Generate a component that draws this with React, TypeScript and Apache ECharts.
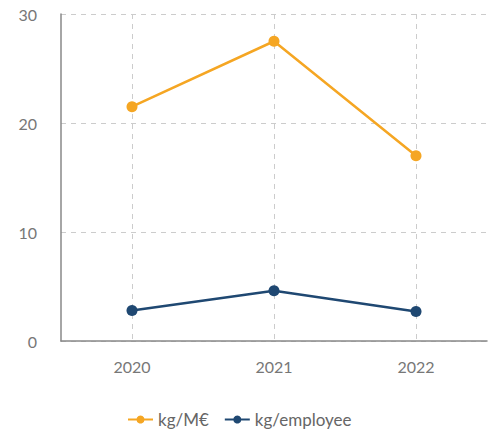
import React, { useEffect, useRef } from "react";
import * as echarts from "echarts";

const years = ["2020", "2021", "2022"];
const kgPerMEur = [21.5, 27.5, 17.0];
const kgPerEmployee = [2.8, 4.6, 2.7];
const seriesNames = ["kg/M€", "kg/employee"];

export default function App() {
  const ref = useRef<HTMLDivElement>(null);
  useEffect(() => {
    const chart = echarts.init(ref.current!, undefined, { renderer: "svg" });
    chart.setOption({
      animation: false,
      textStyle: { fontFamily: "Lato" },
      grid: { left: 61, right: 2, top: 14, bottom: 90 },
      legend: {
        top: 406,
        left: 122,
        itemWidth: 25,
        itemHeight: 10,
        itemGap: 15,
        textStyle: { color: "#666", fontSize: 17, fontFamily: "Lato" },
        data: seriesNames,
      },
      xAxis: {
        type: "category",
        data: years,
        boundaryGap: true,
        axisLine: { lineStyle: { color: "#888", width: 1.5 } },
        axisTick: { show: false },
        axisLabel: { color: "#777", fontSize: 16, margin: 17 },
        splitLine: {
          show: true,
          alignWithLabel: true,
          lineStyle: { color: "#ccc", type: [5, 5] },
        },
      },
      yAxis: {
        type: "value",
        min: 0,
        max: 30,
        interval: 10,
        axisLine: { show: true, lineStyle: { color: "#888", width: 1.5 } },
        axisTick: { show: false },
        axisLabel: { color: "#777", fontSize: 16, margin: 24, padding: [4, 0, 0, 0] },
        splitLine: { lineStyle: { color: "#ccc", type: [5, 5] } },
      },
      series: [
        {
          name: seriesNames[0],
          type: "line",
          data: kgPerMEur,
          color: "#f5a623",
          symbol: "circle",
          symbolSize: 11,
          lineStyle: { width: 2.5 },
        },
        {
          name: seriesNames[1],
          type: "line",
          data: kgPerEmployee,
          color: "#1f4872",
          symbol: "circle",
          symbolSize: 11,
          lineStyle: { width: 2.5 },
        },
      ],
    });
    return () => chart.dispose();
  }, []);
  return <div ref={ref} style={{ width: 489, height: 431, position: "absolute", left: 0, top: 0 }} />;
}
